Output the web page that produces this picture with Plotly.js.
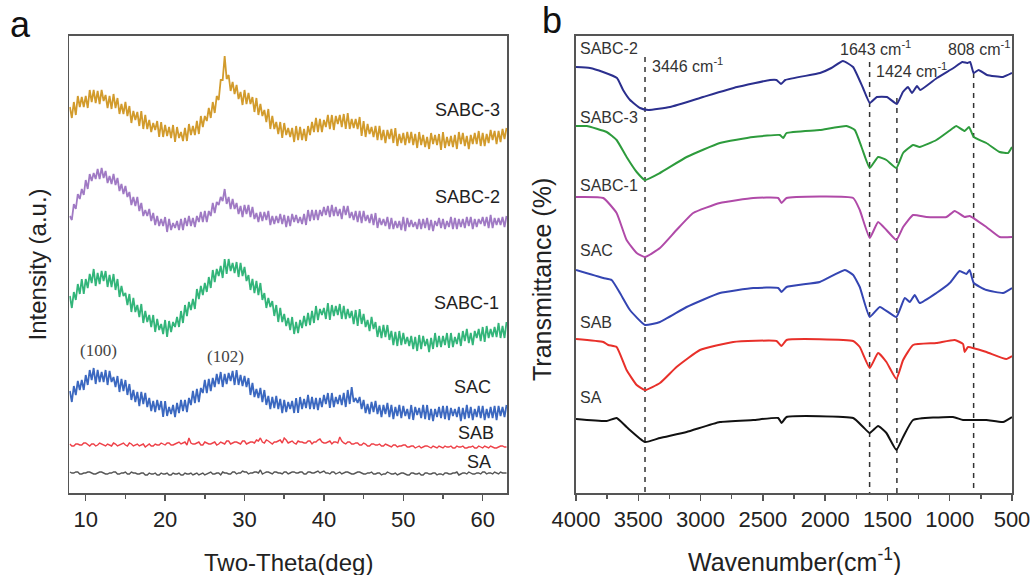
<!DOCTYPE html>
<html><head><meta charset="utf-8">
<script src="https://cdn.plot.ly/plotly-3.0.1.min.js"></script>
<style>html,body{margin:0;padding:0;background:#fff}#chart{width:1031px;height:575px}</style>
</head><body><div id="chart"></div>
<script>
// ---------- Panel a: XRD, Two-Theta 8..63 deg ----------
// "Hi" = upper edge of the noisy trace read at 8, 8.5, 9 ... 63 deg
// "Lo" = lower edge of the noisy trace read at 8.25, 8.75 ... 62.75 deg
const thetaStart = 8;
const thetaStep = 0.25;
const xrdSABC3Hi = [386,391,397,396,397,403,403,402,403,398,397,399,395,389,391,387,382,381,382,378,373,370,372,371,368,366,368,366,361,365,369,367,372,377,377,385,391,397,413,437,418,411,408,401,403,400,396,395,389,383,384,377,371,371,370,365,365,367,366,364,367,371,375,374,373,378,378,377,378,379,380,374,374,376,372,369,366,367,367,363,363,364,365,359,360,361,361,359,361,358,356,360,358,359,361,356,357,358,361,360,357,358,360,362,360,359,363,362,362,364,365];
const xrdSABC3Lo = [375,378,386,386,385,391,390,389,392,385,384,385,379,379,377,370,373,367,364,364,361,363,356,356,357,355,351,355,352,352,358,358,359,366,372,375,380,393,413,414,402,399,394,388,389,389,381,378,377,371,364,364,359,355,358,356,351,353,353,352,358,361,361,361,366,364,363,369,366,364,364,365,364,357,356,359,356,353,353,350,354,350,347,350,348,350,348,345,348,346,344,349,348,343,345,347,346,344,349,347,344,349,349,347,347,350,353,349,351,354];
const xrdSABC2Hi = [277,289,299,304,313,319,320,324,325,322,317,319,315,309,307,301,296,296,290,283,284,280,277,274,276,274,270,272,274,275,277,275,277,281,282,282,290,291,296,304,296,294,290,287,288,288,286,280,281,281,282,277,277,279,278,277,279,278,276,279,283,283,283,283,286,287,288,286,284,287,287,281,282,282,282,278,279,280,275,274,276,275,272,272,276,275,273,271,274,274,275,273,272,275,274,272,276,275,274,274,276,276,274,274,276,276,278,275,275,276,277];
const xrdSABC2Lo = [273,284,294,298,304,312,314,314,315,310,309,308,302,299,296,288,287,282,277,277,272,268,267,267,261,263,265,263,263,267,267,266,271,271,271,277,280,288,292,289,284,284,279,276,279,276,274,271,272,273,268,269,270,269,266,267,271,270,269,268,272,273,273,277,278,276,277,277,274,278,275,273,271,270,272,270,268,265,268,267,264,264,265,263,262,266,266,264,264,265,263,262,267,265,264,266,264,264,266,265,267,264,266,269,267,265,265,268,268,266];
const xrdSABC1Hi = [197,201,209,214,214,219,224,220,222,222,218,219,214,207,200,199,195,188,189,182,178,178,174,169,173,172,171,176,182,188,191,194,204,207,210,216,223,224,227,234,234,230,231,230,226,218,214,212,210,200,195,192,188,185,179,175,176,171,173,177,180,182,187,184,185,190,188,187,189,187,184,182,183,184,179,173,176,171,167,168,168,162,161,162,160,156,157,156,158,157,154,155,160,157,157,160,160,156,160,162,164,160,162,164,166,167,164,166,170,167,171];
const xrdSABC1Lo = [185,193,199,199,205,210,207,209,212,206,206,203,196,197,188,181,181,176,170,171,166,161,163,159,156,161,166,166,170,177,183,184,194,198,201,205,211,217,215,219,222,220,216,217,212,203,200,198,193,185,186,177,171,171,167,163,159,160,165,167,168,170,173,178,174,173,177,178,174,174,175,169,167,169,166,162,164,156,155,156,153,148,147,148,149,147,144,142,144,147,141,144,146,146,148,145,146,149,147,152,150,148,155,152,151,155,156,156,155,155];
const xrdSACHi = [102,107,112,113,118,123,125,123,121,123,122,116,117,114,113,109,103,101,101,100,95,92,93,92,92,86,88,90,93,93,95,102,104,105,113,114,115,119,121,119,120,122,123,118,117,115,110,104,105,103,97,96,97,94,93,91,92,95,96,94,98,96,95,95,98,100,100,96,98,100,103,106,95,96,93,89,91,92,88,88,90,88,86,88,87,84,88,86,85,88,88,84,84,86,87,87,85,84,86,85,88,86,84,87,87,84,86,87,87,86,88];
const xrdSACLo = [91,98,103,103,108,113,109,111,111,108,111,106,101,102,98,93,91,87,89,86,82,81,83,76,77,79,76,80,82,81,88,90,91,100,100,102,106,109,106,109,112,108,108,107,106,98,96,95,91,88,84,85,84,80,81,84,80,80,84,85,84,84,83,86,89,85,86,89,88,86,89,91,90,84,80,79,81,79,76,79,76,74,77,75,77,74,73,78,75,74,73,72,76,75,74,73,77,76,72,74,75,73,76,75,73,75,75,73,77,76];
const xrdSAB = [49,47,49,48,50,47,49,48,49,47,48,50,47,49,48,50,47,49,48,46,49,47,48,50,48,50,48,50,49,51,55,49,50,48,51,49,50,48,51,49,52,50,51,49,52,50,51,53,55,50,52,49,51,53,55,50,52,49,51,50,52,49,51,54,50,51,49,51,56,50,51,49,50,48,50,47,49,48,49,47,48,46,48,47,48,46,47,45,47,46,47,45,46,47,45,46,47,45,46,47,45,46,45,47,45,46,47,45,46,47,46];
const xrdSABb = [47,49,48,50,48,49,47,50,48,49,47,49,48,50,47,49,48,47,49,48,47,49,48,49,50,48,49,51,50,48,50,49,51,48,50,49,51,49,50,52,49,51,50,52,49,51,50,52,51,53,50,51,52,50,53,51,50,52,51,50,52,51,53,51,50,52,51,50,52,49,51,49,50,48,49,47,49,48,47,49,47,48,46,47,48,46,47,46,45,47,46,47,45,46,47,46,45,47,46,45,46,47,45,46,47,45,46,45,47,46];
const xrdSA = [21,20,21,19,20,21,19,20,21,19,20,21,19,20,21,19,20,19,20,18,20,19,18,20,19,18,20,19,18,20,19,18,20,19,18,20,19,20,18,20,19,21,19,20,21,19,20,21,23,20,21,19,21,20,21,19,21,20,21,19,21,20,21,20,22,20,21,19,21,20,21,19,20,21,19,20,21,19,20,19,21,19,20,19,20,18,20,19,20,18,20,19,20,19,18,20,19,20,18,20,19,20,19,20,21,19,20,21,19,20,20];
const xrdSAb = [20,21,19,20,21,20,19,21,20,19,20,21,19,20,19,21,20,19,20,18,19,20,18,19,20,18,19,20,18,19,20,19,18,20,19,21,19,20,21,20,19,21,20,22,21,20,21,20,19,21,20,21,20,19,21,20,21,20,21,19,21,20,22,21,20,19,21,20,19,21,20,19,21,20,19,20,19,20,18,19,20,19,18,20,19,18,20,19,18,20,19,20,18,19,20,19,20,21,19,20,21,19,20,19,21,20,19,20,21,20];
const xrdNames = ["SABC-3","SABC-2","SABC-1","SAC","SAB","SA"];
const xrdColors = ["#d29b2c","#a07ac4","#33b57a","#3b68c0","#ee4148","#555555"];
const xrdLabelX = [58.1,58.1,58.0,58.7,59.1,59.5];
const xrdLabelY = [383,296,190,106,60,31];
const hklLabels = ["(100)","(102)"];
const hklX = [11.6,27.6];
const hklY = [143,137];

// ---------- Panel b: FTIR ----------
const wnSABC2 = [4000,3888,3783,3671,3622,3566,3486,3420,3245,2980,2708,2443,2390,2355,2320,2041,1950,1857,1776,1696,1641,1585,1504,1424,1376,1335,1303,1263,1237,1103,970,898,861,836,808,768,701,572,500];
const tSABC2 = [426,425,421,415,403,393,385,383,386,396,406,413,413,409,413,420,425,432,426,405,390,396,396,389,401,406,400,407,403,415,425,431,430,431,420,423,418,416,420];
const wnSABC3 = [4000,3914,3754,3674,3594,3513,3446,3326,3112,2845,2577,2364,2337,2310,2043,1829,1762,1708,1642,1575,1508,1428,1374,1294,1241,1107,973,947,880,845,807,706,599,532,500];
const tSABC3 = [367,367,361,353,336,321,313,320,336,350,356,358,355,360,363,367,363,346,325,336,333,325,340,348,346,353,365,367,362,366,356,350,341,340,346];
const wnSABC1 = [4000,3781,3674,3594,3513,3446,3326,3193,3059,2845,2577,2377,2350,2310,1775,1722,1642,1575,1508,1428,1374,1294,1187,1027,960,880,840,706,599,500];
const tSABC1 = [296,295,280,253,240,236,245,263,280,290,295,295,290,295,295,283,255,271,263,253,266,278,276,276,282,276,277,266,256,256];
const wnSAC = [4000,3781,3714,3647,3567,3446,3326,3112,2845,2577,2377,2350,2310,2043,1842,1775,1722,1642,1561,1428,1361,1321,1281,1241,1107,1000,920,866,840,807,706,572,500];
const tSAC = [223,215,213,200,183,168,171,186,200,205,205,201,206,211,223,218,206,176,186,176,195,191,198,190,200,210,222,219,223,210,203,200,205];
const wnSAB = [4000,3781,3741,3674,3594,3513,3446,3326,3193,3005,2738,2390,2350,2310,1775,1722,1642,1575,1508,1428,1374,1294,1107,960,893,880,853,706,546,500];
const tSAB = [154,151,148,146,123,108,103,110,126,143,151,152,147,153,152,146,125,140,131,114,133,148,150,153,149,141,146,141,134,137];
const wnSA = [4000,3754,3674,3594,3446,3326,3112,2845,2577,2377,2350,2310,1775,1695,1642,1575,1508,1428,1374,1294,973,893,706,572,500];
const tSA = [74,72,75,66,51,55,61,71,73,75,70,76,75,66,60,67,60,43,56,73,76,73,73,71,76];
const ftirNames = ["SABC-2","SABC-3","SABC-1","SAC","SAB","SA"];
const ftirColors = ["#2b2f8e","#2d9b3c","#b04aa8","#3445b2","#e8302a","#111111"];
const ftirLabelY = [445,376,308,243,171,96];
const peakWn = [3446,1643,1424,808];
const peakTop = [436,431,395,420];
const peakText = ["3446 cm<sup>-1</sup>","1643 cm<sup>-1</sup>","1424 cm<sup>-1</sup>","808 cm<sup>-1</sup>"];
const peakTextX = [3406,1897,1608,1030];
const peakTextY = [428,445,423,445];

const W = 1031;
const FONT = "Liberation Sans, Arial, sans-serif";
const traces = [];
const xrdA = [xrdSABC3Hi,xrdSABC2Hi,xrdSABC1Hi,xrdSACHi,xrdSAB,xrdSA];
const xrdB = [xrdSABC3Lo,xrdSABC2Lo,xrdSABC1Lo,xrdSACLo,xrdSABb,xrdSAb];
xrdA.forEach((a,i)=>{
  const b = xrdB[i];
  const y = [];
  a.forEach((v,k)=>{ y.push(v); if (k < b.length) y.push(b[k]); });
  traces.push({type:"scatter",mode:"lines",x0:thetaStart,dx:thetaStep,y:y,xaxis:"x",yaxis:"y",
    line:{color:xrdColors[i],width:i<4?1.8:1.4},hoverinfo:"skip"});
});
const ftirX = [wnSABC2,wnSABC3,wnSABC1,wnSAC,wnSAB,wnSA];
const ftirY = [tSABC2,tSABC3,tSABC1,tSAC,tSAB,tSA];
peakWn.forEach((w,i)=>{
  traces.push({type:"scatter",mode:"lines",x:[w,w],y:[peakTop[i],0],xaxis:"x2",yaxis:"y2",
    line:{color:"#333",width:1.5,dash:"5px,5px"},hoverinfo:"skip"});
});
ftirX.forEach((x,i)=>{
  traces.push({type:"scatter",mode:"lines",x:x,y:ftirY[i],xaxis:"x2",yaxis:"y2",
    line:{color:ftirColors[i],width:2,shape:"spline",smoothing:0.4},hoverinfo:"skip"});
});

const ann = [];
xrdNames.forEach((n,i)=>ann.push({xref:"x",yref:"y",x:xrdLabelX[i],y:xrdLabelY[i],text:n,showarrow:false,
  font:{family:FONT,size:18,color:"#222"},xanchor:"center",yanchor:"middle"}));
hklLabels.forEach((n,i)=>ann.push({xref:"x",yref:"y",x:hklX[i],y:hklY[i],text:n,showarrow:false,
  font:{family:"Liberation Serif, serif",size:17,color:"#444"},xanchor:"center",yanchor:"middle"}));
ftirNames.forEach((n,i)=>ann.push({xref:"x2",yref:"y2",x:3985,y:ftirLabelY[i],text:n,showarrow:false,
  font:{family:FONT,size:16,color:"#333"},xanchor:"left",yanchor:"middle"}));
peakText.forEach((t,i)=>ann.push({xref:"x2",yref:"y2",x:peakTextX[i],y:peakTextY[i],text:t,showarrow:false,
  font:{family:FONT,size:16,color:"#333"},xanchor:"left",yanchor:"middle"}));
ann.push({xref:"paper",yref:"paper",x:288/W,y:-0.153,text:"Two-Theta(deg)",showarrow:false,font:{family:FONT,size:24,color:"#222"},xanchor:"center",yanchor:"middle"});
ann.push({xref:"paper",yref:"paper",x:794/W,y:-0.147,text:"Wavenumber(cm<sup>-1</sup>)",showarrow:false,font:{family:FONT,size:25,color:"#222"},xanchor:"center",yanchor:"middle"});
ann.push({xref:"paper",yref:"paper",x:37/W,y:0.5,text:"Intensity (a.u.)",textangle:-90,showarrow:false,font:{family:FONT,size:24,color:"#222"},xanchor:"center",yanchor:"middle"});
ann.push({xref:"paper",yref:"paper",x:542/W,y:0.466,text:"Transmittance (%)",textangle:-90,showarrow:false,font:{family:FONT,size:25,color:"#222"},xanchor:"center",yanchor:"middle"});
ann.push({xref:"paper",yref:"paper",x:20/W,y:1.025,text:"a",showarrow:false,font:{family:FONT,size:36,color:"#111"},xanchor:"center",yanchor:"middle"});
ann.push({xref:"paper",yref:"paper",x:552/W,y:1.035,text:"b",showarrow:false,font:{family:FONT,size:36,color:"#111"},xanchor:"center",yanchor:"middle"});

const axLine = {showline:true,linecolor:"#555",linewidth:1.6,mirror:true,showgrid:false,zeroline:false,automargin:false};
const layout = {
  width:1031,height:575,margin:{l:0,r:0,t:36,b:82},showlegend:false,
  paper_bgcolor:"#fff",plot_bgcolor:"#fff",
  xaxis:Object.assign({},axLine,{domain:[69.3/W,507.3/W],range:[7.93,63.1],tick0:10,dtick:10,ticks:"outside",ticklen:6,tickwidth:1.5,tickcolor:"#555",
    minor:{ticks:"outside",ticklen:4,tickwidth:1.5,tickcolor:"#555",dtick:5,tick0:5},
    tickfont:{family:FONT,size:22,color:"#222"}}),
  yaxis:Object.assign({},axLine,{domain:[0,1],range:[0,457],showticklabels:false,ticks:""}),
  xaxis2:Object.assign({},axLine,{domain:[576/W,1012/W],range:[4000,500],tick0:500,dtick:500,ticks:"outside",ticklen:6,tickwidth:1.5,tickcolor:"#555",
    minor:{ticks:"outside",ticklen:4,tickwidth:1.5,tickcolor:"#555",dtick:250,tick0:250},
    tickfont:{family:FONT,size:22,color:"#222"},anchor:"y2"}),
  yaxis2:Object.assign({},axLine,{domain:[0,1],range:[0,457],showticklabels:false,ticks:"",anchor:"x2"}),
  annotations:ann
};
Plotly.newPlot("chart",traces,layout,{staticPlot:true,displayModeBar:false});
</script></body></html>
